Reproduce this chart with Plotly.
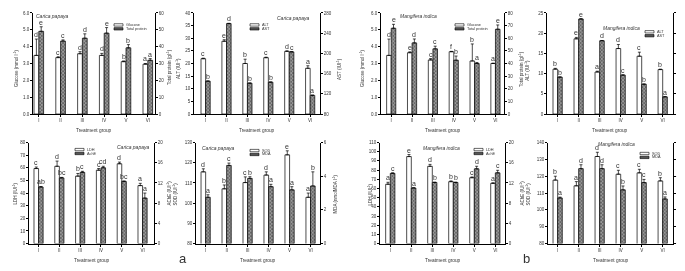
import plotly.graph_objects as go

W, H = 685, 271
groups = ["I", "II", "III", "IV", "V", "VI"]

# ---------------- Panel a : Carica papaya ----------------
cp_glucose = [3.48, 3.35, 3.58, 3.48, 3.11, 2.96]
cp_glucose_err = [0.97, 0.05, 0.12, 0.12, 0.04, 0.04]
cp_glucose_let = ["d", "c", "d", "d", "b", "a"]
cp_protein = [49.1, 43.3, 45.0, 48.0, 39.3, 31.9]
cp_protein_err = [2.7, 0.7, 2.6, 3.3, 1.9, 1.0]
cp_protein_let = ["e", "c", "d", "e", "b", "a"]

cp_alt = [21.9, 28.8, 20.0, 22.3, 24.8, 18.1]
cp_alt_err = [0.2, 0.6, 1.7, 0.2, 0.2, 1.0]
cp_alt_let = ["c", "e", "b", "c", "d", "a"]
cp_ast = [145, 259, 141, 143, 203, 117]
cp_ast_err = [0.5, 0.5, 0.5, 0.5, 0.5, 0.5]
cp_ast_let = ["b", "d", "b", "b", "c", "a"]

cp_ldh = [59.4, 61.2, 53.4, 58.1, 63.2, 45.9]
cp_ldh_err = [1.2, 4.1, 2.1, 1.3, 1.3, 1.8]
cp_ldh_let = ["c", "d", "b", "c", "d", "a"]
cp_ache = [11.2, 13.0, 14.1, 15.0, 12.3, 9.0]
cp_ache_err = [0.1, 0.1, 0.2, 0.3, 0.1, 1.0]
cp_ache_let = ["ab", "bc", "c", "cd", "bc", "a"]

cp_sod = [115.5, 107.1, 110.2, 113.9, 123.9, 102.9]
cp_sod_err = [1.5, 1.9, 2.8, 1.6, 2.0, 2.1]
cp_sod_let = ["d", "b", "c", "d", "e", "a"]
cp_mda = [2.75, 4.64, 3.87, 3.38, 3.19, 3.42]
cp_mda_err = [0.15, 0.14, 0.10, 0.14, 0.19, 0.84]
cp_mda_let = ["a", "c", "b", "a", "a", "b"]

# ---------------- Panel b : Mangifera indica ----------------
mi_glucose = [3.48, 3.64, 3.21, 3.70, 3.15, 3.00]
mi_glucose_err = [0.97, 0.05, 0.08, 0.02, 1.01, 0.02]
mi_glucose_let = ["d", "e", "c", "f", "b", "a"]
mi_protein = [67.9, 56.3, 51.6, 42.6, 40.0, 67.1]
mi_protein_err = [3.1, 3.1, 2.1, 3.3, 0.8, 3.4]
mi_protein_let = ["e", "d", "c", "b", "a", "e"]

mi_alt = [11.1, 18.6, 10.4, 16.2, 14.3, 11.0]
mi_alt_err = [0.2, 0.35, 0.2, 1.0, 1.0, 0.1]
mi_alt_let = ["b", "e", "a", "d", "c", "b"]
mi_ast = [153, 268, 225, 157, 139, 114]
mi_ast_err = [0.5, 0.5, 0.5, 0.5, 0.5, 0.5]
mi_ast_let = ["b", "e", "d", "c", "b", "a"]

mi_ldh = [64.6, 94.7, 84.1, 67.4, 71.7, 65.6]
mi_ldh_err = [2.1, 2.2, 2.1, 0.8, 0.8, 0.5]
mi_ldh_let = ["a", "e", "d", "b", "c", "a"]
mi_ache = [13.9, 11.0, 12.1, 12.1, 14.8, 14.0]
mi_ache_err = [0.1, 0.05, 0.05, 0.05, 0.5, 0.5]
mi_ache_let = ["c", "a", "b", "b", "d", "c"]

mi_sod = [117.7, 114.3, 131.7, 121.2, 122.0, 117.2]
mi_sod_err = [2.3, 2.5, 2.5, 2.3, 2.1, 1.9]
mi_sod_let = ["b", "a", "d", "c", "c", "b"]
mi_mda = [2.71, 4.45, 4.45, 3.19, 3.62, 2.65]
mi_mda_err = [0.05, 0.23, 0.23, 0.23, 0.19, 0.12]
mi_mda_let = ["a", "d", "d", "b", "c", "a"]

# ---------------- layout of panels (pixels) ----------------
panels = [
    dict(px=(25, 147, 3, 106), xr=(-0.156, 5.44),
         lv=cp_glucose, le=cp_glucose_err, ll=cp_glucose_let, lr=(0, 6), ld=1, lf=".1f",
         rv=cp_protein, re=cp_protein_err, rl=cp_protein_let, rr=(0, 60), rd=10,
         names=("Glucose", "Total protein"), leg=(106, 14),
         title=("Carica papaya", 26, 6, "left")),
    dict(px=(186, 312, 3, 106), xr=(-0.445, 5.58),
         lv=cp_alt, le=cp_alt_err, ll=cp_alt_let, lr=(0, 40), ld=5, lf="d",
         rv=cp_ast, re=cp_ast_err, rl=cp_ast_let, rr=(80, 280), rd=40,
         names=("ALT", "AST"), leg=(242, 14),
         title=("Carica papaya", 303, 8, "right")),
    dict(px=(373, 496, 3, 106), xr=(-0.38, 5.52),
         lv=mi_glucose, le=mi_glucose_err, ll=mi_glucose_let, lr=(0, 6), ld=1, lf=".1f",
         rv=mi_protein, re=mi_protein_err, rl=mi_protein_let, rr=(0, 80), rd=10,
         names=("Glucose", "Total protein"), leg=(447, 14),
         title=("Mangifera indica", 390, 6, "left")),
    dict(px=(539, 665, 3, 106), xr=(-0.396, 5.60),
         lv=mi_alt, le=mi_alt_err, ll=mi_alt_let, lr=(0, 25), ld=5, lf="d",
         rv=mi_ast, re=mi_ast_err, rl=mi_ast_let, rr=(80, 280), rd=40,
         names=("ALT", "AST"), leg=(637, 21),
         title=("Mangifera indica", 593, 18, "left")),
    dict(px=(21, 146, 135, 238), xr=(-0.35, 5.66),
         lv=cp_ldh, le=cp_ldh_err, ll=cp_ldh_let, lr=(0, 80), ld=10, lf="d",
         rv=cp_ache, re=cp_ache_err, rl=cp_ache_let, rr=(0, 20), rd=4,
         names=("LDH", "AchE"), leg=(67, 141),
         title=("Carica papaya", 143, 140, "right")),
    dict(px=(188, 312, 135, 238), xr=(-0.35, 5.56),
         lv=cp_sod, le=cp_sod_err, ll=cp_sod_let, lr=(80, 130), ld=10, lf="d",
         rv=cp_mda, re=cp_mda_err, rl=cp_mda_let, rr=(0, 6), rd=2,
         names=("SOD", "MDA"), leg=(242, 142),
         title=("Carica papaya", 192, 141, "left")),
    dict(px=(372, 497, 135, 238), xr=(-0.38, 5.57),
         lv=mi_ldh, le=mi_ldh_err, ll=mi_ldh_let, lr=(0, 110), ld=10, lf="d",
         rv=mi_ache, re=mi_ache_err, rl=mi_ache_let, rr=(0, 20), rd=4,
         names=("LDH", "AchE"), leg=(466, 141),
         title=("Mangifera indica", 413, 141, "left")),
    dict(px=(540, 665, 135, 238), xr=(-0.35, 5.60),
         lv=mi_sod, le=mi_sod_err, ll=mi_sod_let, lr=(80, 140), ld=10, lf="d",
         rv=mi_mda, re=mi_mda_err, rl=mi_mda_let, rr=(0, 6), rd=1,
         names=("SOD", "MDA"), leg=(632, 145),
         title=("Mangifera indica", 588, 137, "left")),
]

sup = "<sup>-1</sup>"
axis_titles = [
    ("Glucose (mmol l" + sup + ")", 8, 60),
    ("Total protein (gl" + sup + ")", 161, 58),
    ("ALT (IUl" + sup + ")", 170, 60),
    ("AST (IUl" + sup + ")", 331, 60),
    ("Glucose (mmol l" + sup + ")", 354, 60),
    ("Total protein (gl" + sup + ")", 513, 60),
    ("ALT (IUl" + sup + ")", 519, 62),
    ("AST (IUl" + sup + ")", 675, 60),
    ("LDH (IUl" + sup + ")", 7, 187),
    ("AChE (IUl" + sup + ")", 161, 187),
    ("SOD (IUl" + sup + ")", 167, 188),
    ("MDA (nmolMDA l" + sup + ")", 327, 188),
    ("LDH (IUl" + sup + ")", 362, 188),
    ("AChE (IUl" + sup + ")", 514, 187),
    ("SOD (IUl" + sup + ")", 520, 188),
    ("MDA (nmolMDA l" + sup + ")", 675, 188),
]

FONT = "Liberation Sans, Arial, sans-serif"
TXT = "#333333"


def px_x(x):
    return x / W


def px_y(y):
    return 1 - y / H


fig = go.Figure()
annotations = []
shapes = []
layout = {}

for k, p in enumerate(panels, 1):
    xa = "x" if k == 1 else f"x{k}"
    yl_i, yr_i = 2 * k - 1, 2 * k
    yl = "y" if yl_i == 1 else f"y{yl_i}"
    yr = f"y{yr_i}"
    xs = list(range(6))
    fig.add_bar(x=xs, y=p["lv"], width=0.22, offset=-0.11, xaxis=xa, yaxis=yl,
                marker=dict(color="white", line=dict(color="black", width=0.7)),
                error_y=dict(type="data", array=p["le"], arrayminus=[0] * 6,
                             symmetric=False, color="black", thickness=0.7, width=1.5),
                showlegend=False, hoverinfo="skip")
    fig.add_bar(x=xs, y=p["rv"], width=0.22, offset=0.11, xaxis=xa, yaxis=yr,
                marker=dict(color="#666666",
                            pattern=dict(shape="x", size=2.5, solidity=0.45,
                                         fgcolor="#111111", bgcolor="#9a9a9a"),
                            line=dict(color="black", width=0.7)),
                error_y=dict(type="data", array=p["re"], arrayminus=[0] * 6,
                             symmetric=False, color="black", thickness=0.7, width=1.5),
                showlegend=False, hoverinfo="skip")

    x0, x1, y0, y1 = p["px"]
    axis_common = dict(showline=True, linecolor="black", linewidth=0.8,
                       ticks="outside", ticklen=2, tickwidth=0.6, tickcolor="black",
                       tickfont=dict(size=4.5, color=TXT, family=FONT),
                       showgrid=False, zeroline=False)
    layout["xaxis" if k == 1 else f"xaxis{k}"] = dict(
        domain=[px_x(x0), px_x(x1)], range=list(p["xr"]), anchor=yl,
        tickvals=[i + 0.11 for i in xs], ticktext=groups, **axis_common)
    layout["yaxis" if yl_i == 1 else f"yaxis{yl_i}"] = dict(
        domain=[px_y(y1), px_y(y0)], range=list(p["lr"]), anchor=xa,
        tick0=p["lr"][0], dtick=p["ld"], tickformat=p["lf"], **axis_common)
    layout[f"yaxis{yr_i}"] = dict(
        overlaying=yl, side="right", anchor=xa, range=list(p["rr"]),
        tick0=p["rr"][0], dtick=p["rd"], **axis_common)

    # significance letters
    for i in xs:
        annotations.append(dict(x=i, y=p["lv"][i] + p["le"][i], xref=xa, yref=yl,
                                text=p["ll"][i], showarrow=False, yanchor="bottom",
                                xanchor="center", borderpad=0,
                                font=dict(size=7, color="rgba(40,40,40,0.95)", family=FONT)))
        annotations.append(dict(x=i + 0.22, y=p["rv"][i] + p["re"][i], xref=xa, yref=yr,
                                text=p["rl"][i], showarrow=False, yanchor="bottom",
                                xanchor="center", borderpad=0,
                                font=dict(size=7, color="rgba(40,40,40,0.95)", family=FONT)))

    # species title
    t, tx, ty, anc = p["title"]
    annotations.append(dict(x=px_x(tx), y=px_y(ty), xref="paper", yref="paper",
                            text="<i>" + t + "</i>", showarrow=False, xanchor=anc,
                            yanchor="middle", font=dict(size=5, color=TXT, family=FONT)))

    # legend
    lx, ly = p["leg"]
    for j, nm in enumerate(p["names"]):
        top = ly + j * 4
        shapes.append(dict(type="rect", xref="paper", yref="paper",
                           x0=px_x(lx), x1=px_x(lx + 9), y0=px_y(top + 2.4), y1=px_y(top),
                           fillcolor="white" if j == 0 else "#555555",
                           line=dict(color="black", width=0.6)))
        annotations.append(dict(x=px_x(lx + 10.5), y=px_y(top + 1.2), xref="paper",
                                yref="paper", text=nm, showarrow=False, xanchor="left",
                                yanchor="middle", borderpad=0,
                                font=dict(size=3.8, color=TXT, family=FONT)))

    # x axis title
    annotations.append(dict(x=px_x((x0 + x1) / 2), y=px_y(y1 + 17), xref="paper",
                            yref="paper", text="Treatment group", showarrow=False,
                            xanchor="center", yanchor="middle",
                            font=dict(size=4.8, color=TXT, family=FONT)))

for t, tx, ty in axis_titles:
    annotations.append(dict(x=px_x(tx), y=px_y(ty), xref="paper", yref="paper", text=t,
                            showarrow=False, textangle=-90, xanchor="center",
                            yanchor="middle", borderpad=0,
                            font=dict(size=4.5, color=TXT, family=FONT)))

annotations.append(dict(x=px_x(169), y=px_y(263), xref="paper", yref="paper", text="a",
                        showarrow=False, font=dict(size=13, color=TXT, family=FONT)))
annotations.append(dict(x=px_x(524), y=px_y(263), xref="paper", yref="paper", text="b",
                        showarrow=False, font=dict(size=13, color=TXT, family=FONT)))

fig.update_layout(width=W, height=H, margin=dict(l=0, r=0, t=0, b=0),
                  paper_bgcolor="white", plot_bgcolor="white", barmode="overlay",
                  showlegend=False, annotations=annotations, shapes=shapes, **layout)

# the original figure is monochrome: render the page in grayscale
post = ("document.querySelectorAll('.main-svg').forEach(function(s)"
        "{s.style.filter='grayscale(100%)';});")
fig.write_html("out.html", post_script=post)
